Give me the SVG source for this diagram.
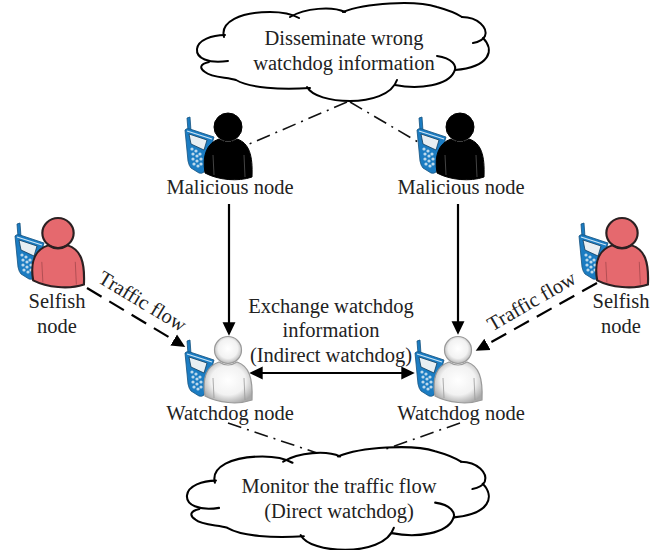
<svg xmlns="http://www.w3.org/2000/svg" width="667" height="550" viewBox="0 0 667 550">
<style>
text{font-family:"Liberation Serif","Times New Roman",serif;font-size:20.5px;fill:#222;text-anchor:middle}
.dd{fill:none;stroke:#111;stroke-width:1.6;stroke-dasharray:14 6 2 6}
.solid{fill:none;stroke:#000;stroke-width:2.2}
.dash{fill:none;stroke:#000;stroke-width:2.2;stroke-dasharray:17 9}
.ph{fill:#1b7cc2;stroke:#14527f;stroke-width:.8}
.fold{fill:none;stroke-width:.8}
</style>
<defs>
<marker id="ah" markerUnits="userSpaceOnUse" markerWidth="14" markerHeight="14" refX="9" refY="6.5" orient="auto-start-reverse" viewBox="0 0 13 13"><path d="M0,0.5L12.5,6.5L0,12.5Z" fill="#000"/></marker>
<radialGradient id="wg" cx="50%" cy="45%" r="60%"><stop offset="0" stop-color="#fff"/><stop offset=".6" stop-color="#f2f2f2"/><stop offset="1" stop-color="#a9a9a9"/></radialGradient>
<g id="phone">
<path class="ph" d="M-41,-9L-38,-10L-37,4L-40,4Z"/>
<path class="ph" d="M-43,3Q-42,1 -38,2L-14,10L-24,45Q-26,47 -29,46L-37,41Q-39,39 -40,34Z"/>
<path d="M-41,4L-16,12" fill="none" stroke="#cfe6f5" stroke-width="1.2"/>
<path d="M-39,7L-21,13L-24,23L-37,17Z" fill="#e8eef2" stroke="#0f3c5e" stroke-width=".8"/>
<g fill="#bcd9ec"><circle cx="-36" cy="22" r="1.6"/><circle cx="-32" cy="24" r="1.6"/><circle cx="-28" cy="27" r="1.6"/><circle cx="-35" cy="27" r="1.6"/><circle cx="-31" cy="29" r="1.6"/><circle cx="-27" cy="32" r="1.6"/><circle cx="-35" cy="32" r="1.6"/><circle cx="-31" cy="34" r="1.6"/><circle cx="-27" cy="37" r="1.6"/><circle cx="-34" cy="37" r="1.6"/><circle cx="-30" cy="39" r="1.6"/></g>
</g>
<path id="body" d="M-23,46C-26,28 -21,16 -9,12C-3,16 3,16 9,12C21,16 25,28 24,50C10,55 -10,53 -23,46Z"/>
<path id="fold" class="fold" d="M-15,28L-14,48M16,28L17,50"/>
<g id="cloudShape" fill="none" stroke="#000" stroke-width="2" stroke-linecap="round">
<path d="M228,61C208,64 196,58 197,49C198,40 212,35 225,35"/>
<path d="M224,37C220,22 240,12 270,12C282,12 292,14 299,18"/>
<path d="M290,17C305,8 332,6 345,12"/>
<path d="M343,12C365,3 415,0 437,7C448,10 456,13 462,17"/>
<path d="M462,17C478,17 488,28 485,36C483,40 479,42 473,43"/>
<path d="M483,38C495,50 490,67 455,70"/>
<path d="M437,56C452,58 458,66 454,72C448,85 420,90 395,85"/>
<path d="M397,80C392,95 370,101 350,101C330,101 312,96 307,87"/>
<path d="M310,88C280,90 250,88 236,80C228,77 212,78 205,72C199,68 200,64 209,62"/>
</g>
</defs>
<g id="connectors">
<line class="dd" x1="347" y1="102" x2="247" y2="145"/>
<line class="dd" x1="350" y1="102" x2="418" y2="142"/>
<line class="dd" x1="228" y1="423" x2="317" y2="453"/>
<line class="dd" x1="460" y1="423" x2="383" y2="450"/>
<line class="solid" x1="229" y1="204" x2="229" y2="332" marker-end="url(#ah)"/>
<line class="solid" x1="458" y1="204" x2="458" y2="331" marker-end="url(#ah)"/>
<line class="solid" x1="253" y1="373" x2="411" y2="373" marker-start="url(#ah)" marker-end="url(#ah)"/>
<line class="dash" x1="87" y1="288" x2="182" y2="345" marker-end="url(#ah)"/>
<line class="dash" x1="597" y1="283" x2="479" y2="349" marker-end="url(#ah)"/>
</g>
<g id="cloud-top"><use href="#cloudShape"/>
<text x="344" y="45">Disseminate wrong</text><text x="344" y="70">watchdog information</text></g>
<g id="cloud-bottom"><use href="#cloudShape" transform="translate(187,447) scale(1.034,1.05) translate(-197,-3)"/>
<text x="339" y="493">Monitor the traffic flow</text><text x="339" y="518">(Direct watchdog)</text></g>
<g id="malicious-left"><g transform="translate(228,127)"><use href="#phone"/><g fill="#000" stroke="#000"><circle cx="0" cy="0" r="14"/><use href="#body"/></g><use href="#fold" stroke="#555"/></g>
<text x="230" y="194">Malicious node</text></g>
<g id="malicious-right"><g transform="translate(460,127)"><use href="#phone"/><g fill="#000" stroke="#000"><circle cx="0" cy="0" r="14"/><use href="#body"/></g><use href="#fold" stroke="#555"/></g>
<text x="461" y="194">Malicious node</text></g>
<g id="selfish-left"><g transform="translate(58,233)"><use href="#phone"/><g fill="#e5696e" stroke="#2b2022" stroke-width="2" transform="scale(1.08,1.03)"><circle cx="0" cy="0" r="14.5"/><use href="#body"/><use href="#fold" stroke="#a84a4e"/></g></g>
<text x="57" y="308">Selfish</text><text x="57" y="333">node</text></g>
<g id="selfish-right"><g transform="translate(622,233)"><use href="#phone"/><g fill="#e5696e" stroke="#2b2022" stroke-width="2" transform="scale(1.08,1.03)"><circle cx="0" cy="0" r="14.5"/><use href="#body"/><use href="#fold" stroke="#a84a4e"/></g></g>
<text x="621" y="308">Selfish</text><text x="621" y="333">node</text></g>
<g id="watchdog-left"><g transform="translate(228,350)"><use href="#phone"/><g fill="url(#wg)" stroke="#9a9a9a" stroke-width="1.2"><circle cx="0" cy="0" r="13.5"/><use href="#body"/></g><use href="#fold" stroke="#999"/></g>
<text x="230" y="420">Watchdog node</text></g>
<g id="watchdog-right"><g transform="translate(458,350)"><use href="#phone"/><g fill="url(#wg)" stroke="#9a9a9a" stroke-width="1.2"><circle cx="0" cy="0" r="13.5"/><use href="#body"/></g><use href="#fold" stroke="#999"/></g>
<text x="461" y="420">Watchdog node</text></g>
<g id="label-exchange"><text x="331" y="313">Exchange watchdog</text><text x="331" y="337">information</text><text x="331" y="362">(Indirect watchdog)</text></g>
<text transform="translate(139,307) rotate(31)">Traffic flow</text>
<text transform="translate(535,307) rotate(-30)">Traffic flow</text>
</svg>
